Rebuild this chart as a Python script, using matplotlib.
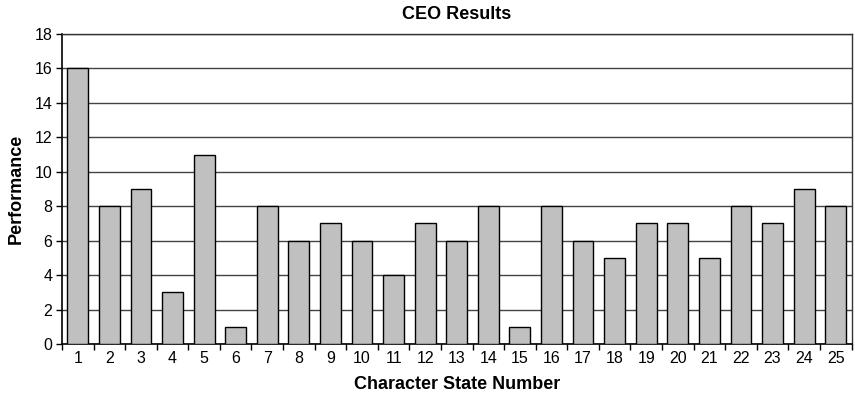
import matplotlib
matplotlib.use("Agg")
import matplotlib.pyplot as plt
import numpy as np

plt.rcParams['font.family'] = ['Liberation Sans', 'DejaVu Sans']

states = [str(i) for i in range(1, 26)]
performance = [16, 8, 9, 3, 11, 1, 8, 6, 7, 6, 4, 7, 6, 8, 1, 8, 6, 5, 7, 7, 5, 8, 7, 9, 8]
y_ticks = [0, 2, 4, 6, 8, 10, 12, 14, 16, 18]

fig = plt.figure(figsize=(8.55, 3.96), dpi=100)
ax = fig.add_axes([62 / 855, 52 / 396, (851.5 - 62) / 855, (344 - 34) / 396])

x = np.arange(len(states))
ax.bar(x, performance, width=0.66, color='#c0c0c0', edgecolor='black',
       linewidth=1.0, zorder=3)

ax.set_xlim(-0.5, len(states) - 0.5)
ax.set_ylim(0, 18)
ax.set_yticks(y_ticks)
ax.yaxis.grid(True, color='#444444', linewidth=1.0, zorder=0)
ax.set_axisbelow(True)

# category labels centred, tick marks between categories
ax.set_xticks(x)
ax.set_xticklabels(states)
ax.tick_params(axis='x', which='major', length=0, labelsize=11.5, pad=5)
ax.set_xticks(np.arange(-0.5, len(states)), minor=True)
ax.tick_params(axis='x', which='minor', length=4, width=1, direction='out')
ax.tick_params(axis='y', length=4, width=1, direction='out', labelsize=11.5, pad=3)

for side in ['left', 'bottom']:
    ax.spines[side].set_color('black')
    ax.spines[side].set_linewidth(1.2)
for side in ['top', 'right']:
    ax.spines[side].set_color('#333333')
    ax.spines[side].set_linewidth(1.0)

ax.set_title('CEO Results', fontsize=13, fontweight='bold', pad=11)
ax.set_xlabel('Character State Number', fontsize=13, fontweight='bold', labelpad=7)
ax.set_ylabel('Performance', fontsize=13, fontweight='bold', labelpad=7)

fig.savefig('out.png', dpi=100)
